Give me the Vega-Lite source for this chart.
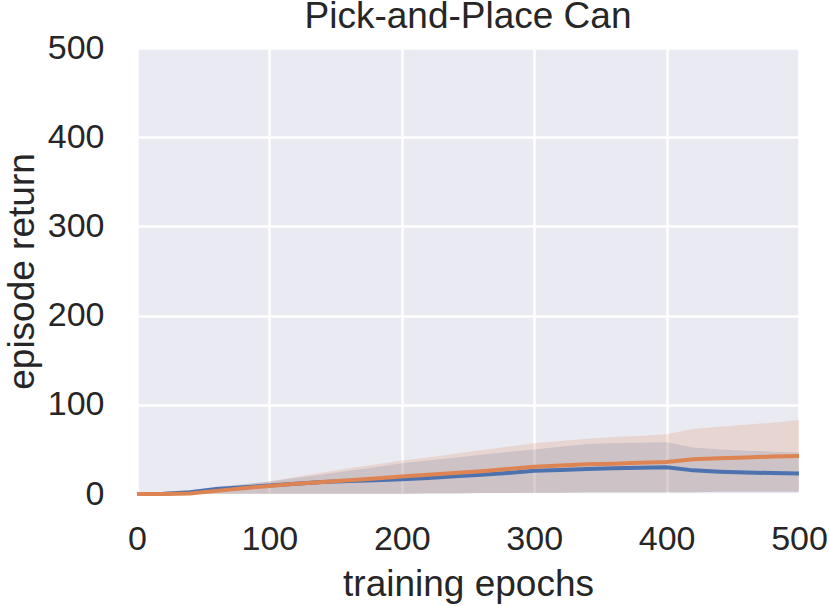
{
  "$schema": "https://vega.github.io/schema/vega-lite/v6.json",
  "width": 662,
  "height": 446,
  "autosize": {"type": "none"},
  "padding": {"left": 137, "top": 48, "right": 31, "bottom": 112},
  "background": "white",
  "title": {
    "text": "Pick-and-Place Can",
    "font": "Liberation Sans",
    "fontSize": 37,
    "fontWeight": "normal",
    "color": "#262626",
    "anchor": "middle",
    "frame": "group",
    "baseline": "alphabetic",
    "offset": 2,
    "dy": 36
  },
  "data": {
    "values": [
      {"epoch": 0, "series": "A", "mean": 0, "lo": 0, "hi": 0},
      {"epoch": 20, "series": "A", "mean": 0.3, "lo": 0, "hi": 0.8},
      {"epoch": 40, "series": "A", "mean": 2, "lo": 0, "hi": 4},
      {"epoch": 60, "series": "A", "mean": 5.5, "lo": 0, "hi": 8},
      {"epoch": 80, "series": "A", "mean": 7.5, "lo": 0, "hi": 11},
      {"epoch": 100, "series": "A", "mean": 9.5, "lo": 0, "hi": 14},
      {"epoch": 120, "series": "A", "mean": 11.5, "lo": 0, "hi": 18},
      {"epoch": 140, "series": "A", "mean": 13.5, "lo": 0, "hi": 22},
      {"epoch": 160, "series": "A", "mean": 14.5, "lo": 0, "hi": 26},
      {"epoch": 180, "series": "A", "mean": 15.5, "lo": 0, "hi": 30},
      {"epoch": 200, "series": "A", "mean": 16.5, "lo": 0, "hi": 34.5},
      {"epoch": 220, "series": "A", "mean": 18, "lo": 0.5, "hi": 37.5},
      {"epoch": 240, "series": "A", "mean": 20, "lo": 0.5, "hi": 40.5},
      {"epoch": 260, "series": "A", "mean": 21.5, "lo": 1, "hi": 44},
      {"epoch": 280, "series": "A", "mean": 23.5, "lo": 1, "hi": 47},
      {"epoch": 300, "series": "A", "mean": 26, "lo": 1.5, "hi": 50},
      {"epoch": 320, "series": "A", "mean": 27, "lo": 1.5, "hi": 53},
      {"epoch": 340, "series": "A", "mean": 28, "lo": 2, "hi": 56},
      {"epoch": 360, "series": "A", "mean": 29, "lo": 2, "hi": 57},
      {"epoch": 380, "series": "A", "mean": 29.5, "lo": 2, "hi": 57.5},
      {"epoch": 400, "series": "A", "mean": 30, "lo": 2, "hi": 58},
      {"epoch": 420, "series": "A", "mean": 26.5, "lo": 2, "hi": 52},
      {"epoch": 440, "series": "A", "mean": 25, "lo": 2.5, "hi": 50},
      {"epoch": 460, "series": "A", "mean": 24, "lo": 2.5, "hi": 48.5},
      {"epoch": 480, "series": "A", "mean": 23.5, "lo": 2.5, "hi": 47.5},
      {"epoch": 500, "series": "A", "mean": 23, "lo": 2.5, "hi": 46.4},
      {"epoch": 0, "series": "B", "mean": 0, "lo": 0, "hi": 0},
      {"epoch": 20, "series": "B", "mean": 0, "lo": 0, "hi": 0.3},
      {"epoch": 40, "series": "B", "mean": 0.5, "lo": 0, "hi": 2},
      {"epoch": 60, "series": "B", "mean": 3.5, "lo": 0, "hi": 6},
      {"epoch": 80, "series": "B", "mean": 6.5, "lo": 0, "hi": 10},
      {"epoch": 100, "series": "B", "mean": 9, "lo": 0, "hi": 14},
      {"epoch": 120, "series": "B", "mean": 11.5, "lo": 0, "hi": 19},
      {"epoch": 140, "series": "B", "mean": 13.5, "lo": 0, "hi": 24},
      {"epoch": 160, "series": "B", "mean": 15.5, "lo": 0, "hi": 29},
      {"epoch": 180, "series": "B", "mean": 17.5, "lo": 0, "hi": 33},
      {"epoch": 200, "series": "B", "mean": 19.5, "lo": 0, "hi": 37.5},
      {"epoch": 220, "series": "B", "mean": 21.5, "lo": 0.5, "hi": 41},
      {"epoch": 240, "series": "B", "mean": 23.5, "lo": 0.5, "hi": 45},
      {"epoch": 260, "series": "B", "mean": 25.5, "lo": 1, "hi": 49},
      {"epoch": 280, "series": "B", "mean": 28, "lo": 1, "hi": 53},
      {"epoch": 300, "series": "B", "mean": 30.5, "lo": 1.5, "hi": 57},
      {"epoch": 320, "series": "B", "mean": 32, "lo": 1.5, "hi": 59.5},
      {"epoch": 340, "series": "B", "mean": 33.3, "lo": 2, "hi": 62},
      {"epoch": 360, "series": "B", "mean": 34, "lo": 2, "hi": 64},
      {"epoch": 380, "series": "B", "mean": 35, "lo": 2, "hi": 65},
      {"epoch": 400, "series": "B", "mean": 35.8, "lo": 2, "hi": 67},
      {"epoch": 420, "series": "B", "mean": 39, "lo": 2, "hi": 73},
      {"epoch": 440, "series": "B", "mean": 40, "lo": 2.5, "hi": 75.5},
      {"epoch": 460, "series": "B", "mean": 41, "lo": 2.5, "hi": 77.5},
      {"epoch": 480, "series": "B", "mean": 42, "lo": 2.5, "hi": 80},
      {"epoch": 500, "series": "B", "mean": 42.7, "lo": 2.5, "hi": 83}
    ]
  },
  "encoding": {
    "x": {
      "field": "epoch",
      "type": "quantitative",
      "scale": {"domain": [0, 500], "nice": false, "zero": false},
      "axis": {"values": [0, 100, 200, 300, 400, 500], "title": "training epochs", "labelFlush": false, "labelOverlap": false}
    },
    "color": {
      "field": "series",
      "type": "nominal",
      "scale": {"domain": ["A", "B"], "range": ["#4c72b0", "#dd8452"]},
      "legend": null
    }
  },
  "layer": [
    {
      "mark": {"type": "area", "opacity": 0.2},
      "encoding": {
        "y": {
          "field": "lo",
          "type": "quantitative",
          "scale": {"domain": [0, 500], "nice": false},
          "axis": {"values": [0, 100, 200, 300, 400, 500], "title": "episode return", "labelFlush": false, "labelOverlap": false}
        },
        "y2": {"field": "hi"}
      }
    },
    {
      "mark": {"type": "line", "strokeWidth": 4},
      "encoding": {
        "y": {"field": "mean", "type": "quantitative"}
      }
    }
  ],
  "config": {
    "font": "Liberation Sans",
    "view": {"stroke": null, "fill": "#eaeaf2"},
    "axis": {
      "domain": false,
      "ticks": false,
      "grid": true,
      "gridColor": "white",
      "gridWidth": 2.5,
      "labelFont": "Liberation Sans",
      "labelFontSize": 34,
      "labelColor": "#262626",
      "titleFont": "Liberation Sans",
      "titleFontSize": 37,
      "titleFontWeight": "normal",
      "titleColor": "#262626"
    },
    "axisX": {"labelPadding": 28, "titlePadding": 10},
    "axisY": {"labelPadding": 33, "titlePadding": 6}
  }
}
